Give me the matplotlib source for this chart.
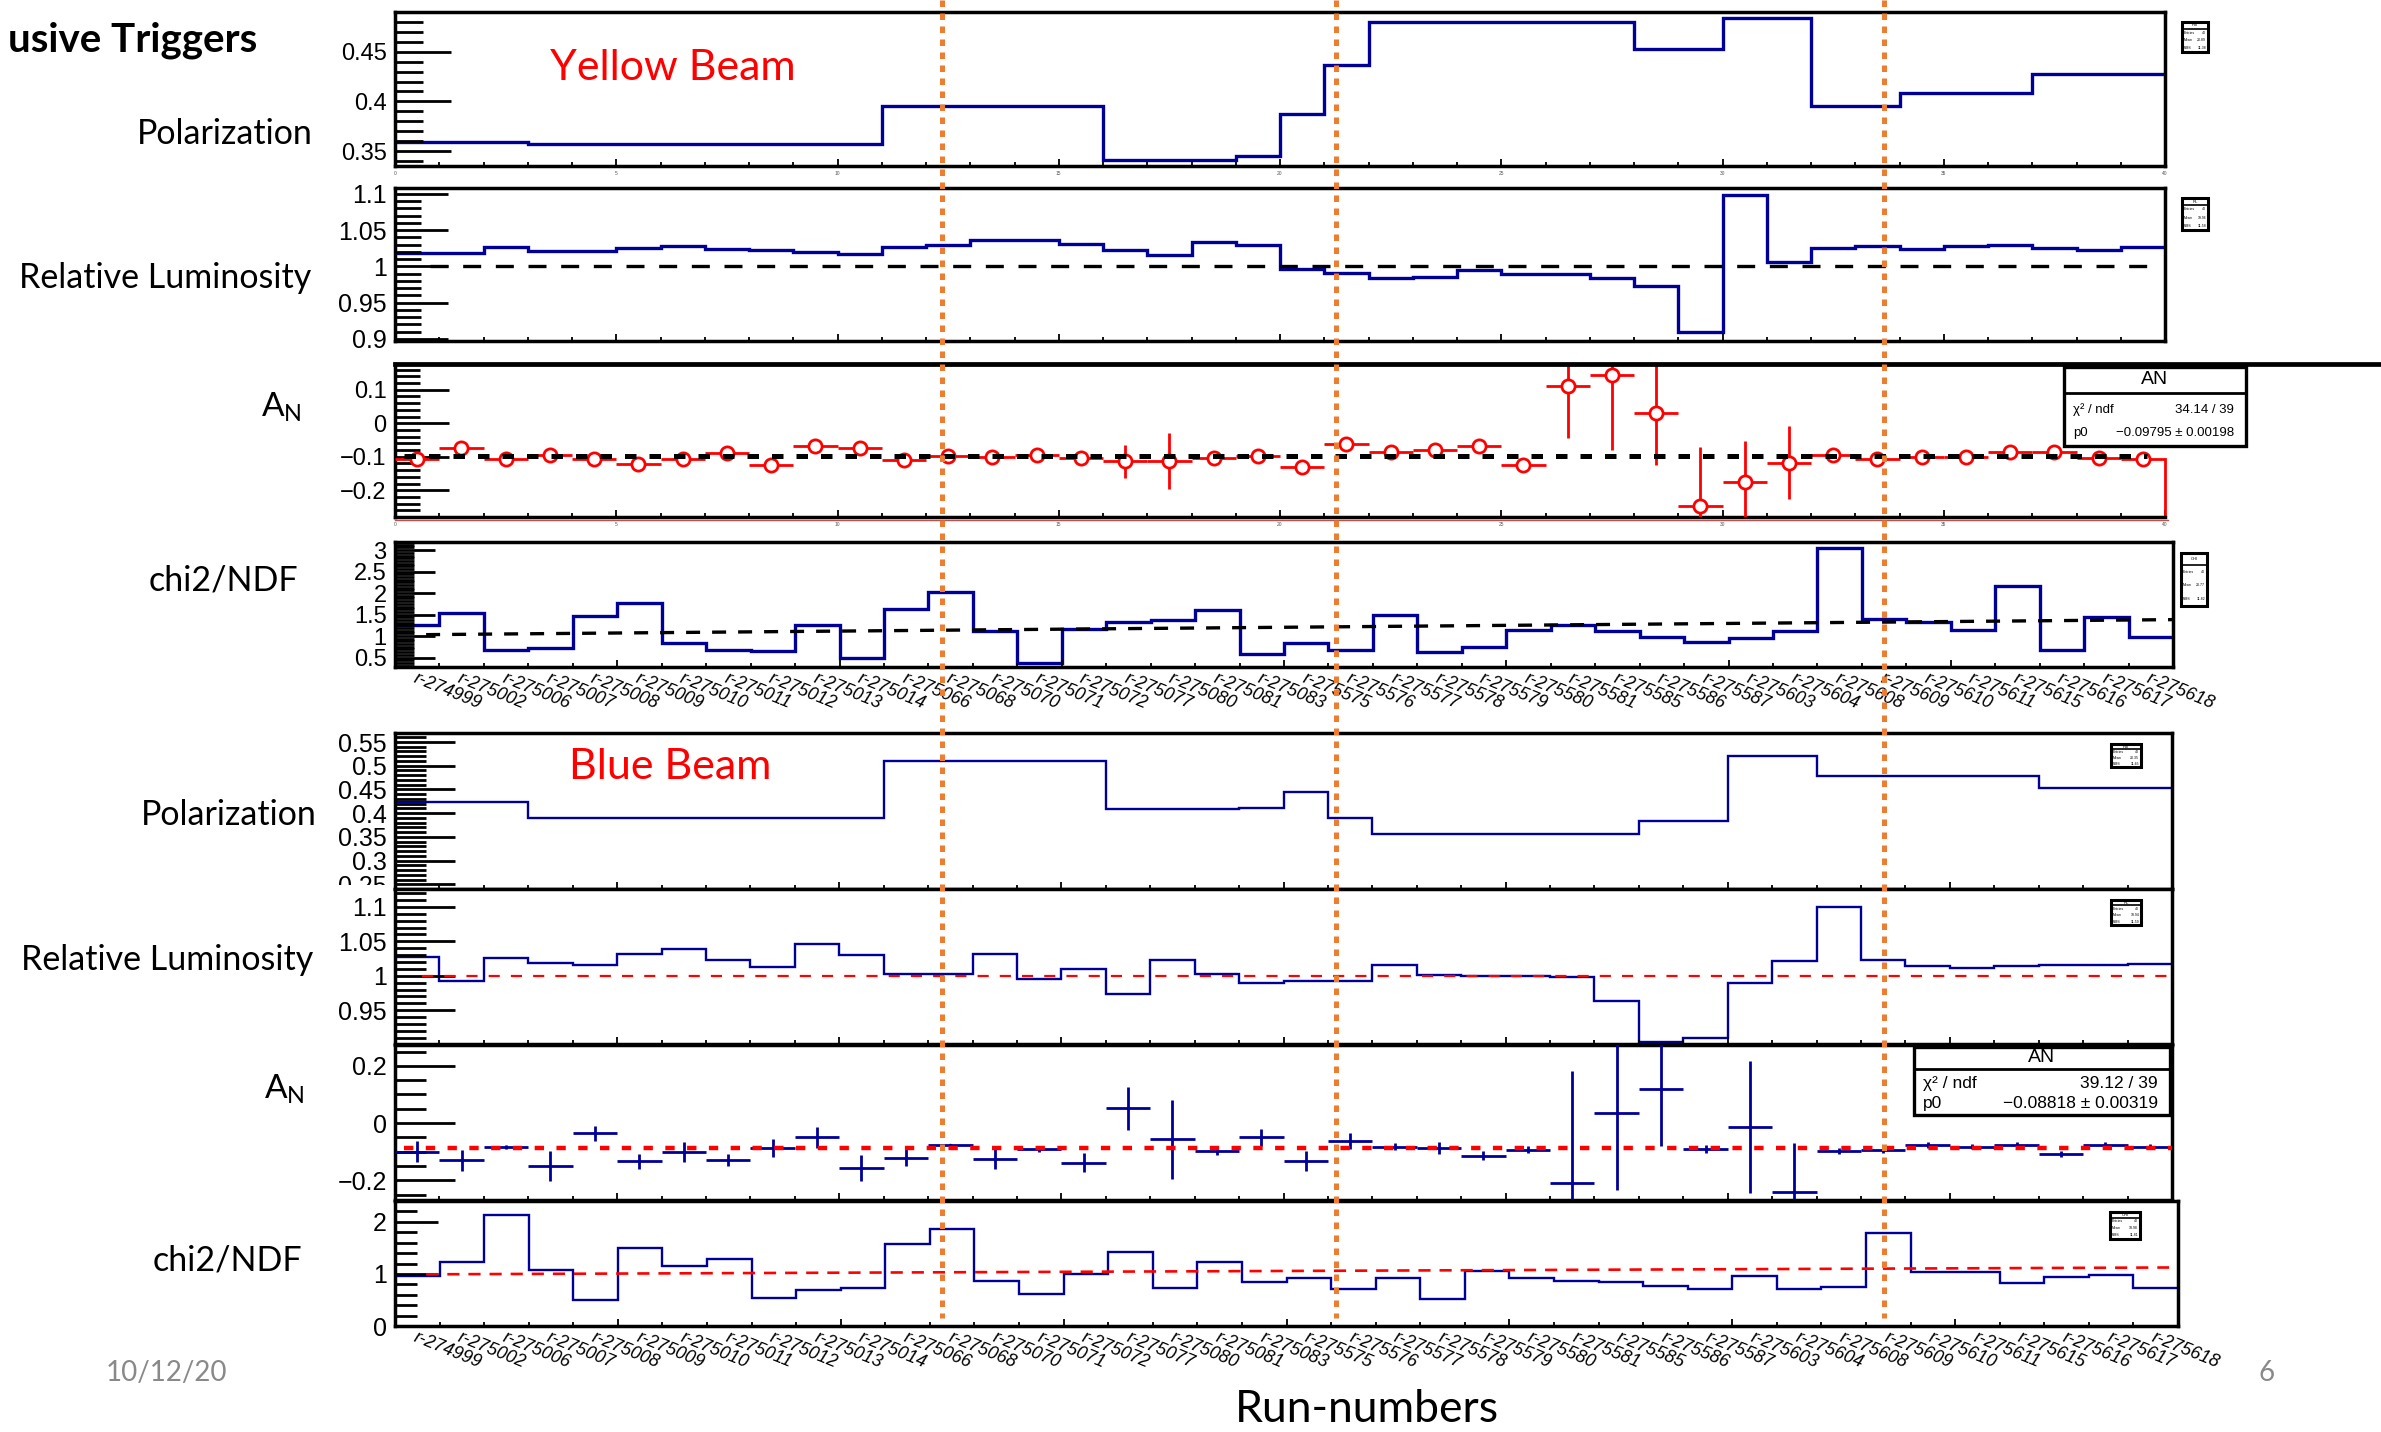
import numpy as np
import matplotlib
matplotlib.use("Agg")
import matplotlib.pyplot as plt
from matplotlib.ticker import MultipleLocator, FuncFormatter
from matplotlib.lines import Line2D
from matplotlib.patches import Rectangle

plt.rcParams["font.family"] = ["Liberation Sans", "DejaVu Sans"]
plt.rcParams["mathtext.default"] = "regular"

# run list (one bin per run)
runs = [274999, 275002, 275006, 275007, 275008, 275009, 275010, 275011, 275012, 275013,
        275014, 275066, 275068, 275070, 275071, 275072, 275077, 275080, 275081, 275083,
        275575, 275576, 275577, 275578, 275579, 275580, 275581, 275585, 275586, 275587,
        275603, 275604, 275608, 275609, 275610, 275611, 275615, 275616, 275617, 275618]

# yellow beam
yellow_pol = [0.359, 0.359, 0.359, 0.357, 0.357, 0.357, 0.357, 0.357, 0.357, 0.357,
              0.357, 0.395, 0.395, 0.395, 0.395, 0.395, 0.341, 0.341, 0.341, 0.345,
              0.387, 0.437, 0.480, 0.480, 0.480, 0.480, 0.480, 0.480, 0.453, 0.453,
              0.484, 0.484, 0.395, 0.395, 0.408, 0.408, 0.408, 0.428, 0.428, 0.428]
yellow_rl = [1.018, 1.019, 1.026, 1.021, 1.021, 1.025, 1.028, 1.024, 1.023, 1.020,
             1.017, 1.026, 1.030, 1.036, 1.036, 1.031, 1.023, 1.016, 1.033, 1.030,
             0.996, 0.991, 0.984, 0.985, 0.995, 0.990, 0.989, 0.984, 0.973, 0.909,
             1.099, 1.006, 1.025, 1.028, 1.024, 1.028, 1.030, 1.025, 1.023, 1.027]
yellow_an = [-0.108, -0.074, -0.107, -0.096, -0.106, -0.121, -0.107, -0.088, -0.126, -0.068,
             -0.074, -0.111, -0.098, -0.102, -0.094, -0.105, -0.114, -0.112, -0.105, -0.098,
             -0.131, -0.062, -0.086, -0.081, -0.067, -0.126, 0.110, 0.145, 0.030, -0.247,
             -0.176, -0.118, -0.094, -0.107, -0.101, -0.101, -0.087, -0.085, -0.103, -0.108]
yellow_an_err = [0.015, 0.012, 0.010, 0.018, 0.010, 0.012, 0.012, 0.015, 0.010, 0.012,
                 0.020, 0.010, 0.012, 0.018, 0.015, 0.012, 0.049, 0.083, 0.012, 0.012,
                 0.010, 0.012, 0.010, 0.010, 0.010, 0.010, 0.155, 0.224, 0.155, 0.176,
                 0.124, 0.109, 0.010, 0.012, 0.010, 0.010, 0.010, 0.010, 0.010, 0.010]
yellow_chi2 = [1.259, 1.539, 0.669, 0.723, 1.462, 1.765, 0.840, 0.669, 0.653, 1.267,
               0.490, 1.640, 2.029, 1.120, 0.382, 1.166, 1.337, 1.368, 1.609, 0.591,
               0.832, 0.685, 1.493, 0.622, 0.747, 1.151, 1.267, 1.120, 0.980, 0.855,
               0.964, 1.120, 3.047, 1.400, 1.337, 1.135, 2.161, 0.669, 1.454, 0.988]
yellow_an_fit = "-0.09795 ± 0.00198"
yellow_an_p0 = -0.09795
yellow_chi2ndf = "34.14 / 39"
yellow_chi2_trend = (1.027, 0.0089)

# blue beam
blue_pol = [0.423, 0.423, 0.423, 0.389, 0.389, 0.389, 0.389, 0.389, 0.389, 0.389,
            0.389, 0.510, 0.510, 0.510, 0.510, 0.510, 0.408, 0.408, 0.408, 0.411,
            0.444, 0.389, 0.355, 0.355, 0.355, 0.355, 0.355, 0.355, 0.383, 0.383,
            0.521, 0.521, 0.479, 0.479, 0.479, 0.479, 0.479, 0.453, 0.453, 0.453]
blue_rl = [1.027, 0.993, 1.026, 1.018, 1.016, 1.032, 1.039, 1.023, 1.013, 1.046,
           1.030, 1.003, 1.002, 1.031, 0.995, 1.010, 0.973, 1.023, 1.002, 0.989,
           0.993, 0.992, 1.015, 1.001, 1.000, 0.999, 0.998, 0.964, 0.904, 0.909,
           0.990, 1.021, 1.100, 1.023, 1.014, 1.012, 1.014, 1.015, 1.016, 1.017]
blue_an = [-0.100, -0.130, -0.083, -0.149, -0.035, -0.133, -0.101, -0.129, -0.087, -0.050,
           -0.156, -0.121, -0.077, -0.124, -0.092, -0.138, 0.052, -0.057, -0.099, -0.050,
           -0.132, -0.062, -0.082, -0.087, -0.114, -0.093, -0.209, 0.035, 0.120, -0.090,
           -0.013, -0.241, -0.098, -0.093, -0.077, -0.082, -0.077, -0.108, -0.077, -0.082]
blue_an_err = [0.036, 0.036, 0.008, 0.052, 0.026, 0.026, 0.034, 0.022, 0.032, 0.036,
               0.045, 0.029, 0.005, 0.035, 0.010, 0.034, 0.075, 0.137, 0.012, 0.029,
               0.036, 0.027, 0.012, 0.020, 0.015, 0.012, 0.390, 0.270, 0.200, 0.015,
               0.230, 0.170, 0.010, 0.012, 0.010, 0.010, 0.010, 0.012, 0.010, 0.010]
blue_chi2 = [0.955, 1.222, 2.125, 1.072, 0.507, 1.494, 1.150, 1.280, 0.533, 0.682,
             0.728, 1.572, 1.858, 0.858, 0.611, 1.007, 1.417, 0.731, 1.235, 0.851,
             0.923, 0.708, 0.923, 0.526, 1.059, 0.923, 0.864, 0.838, 0.773, 0.715,
             0.968, 0.715, 0.747, 1.787, 1.046, 1.046, 0.825, 0.942, 0.975, 0.728]
blue_an_fit = "-0.08818 ± 0.00319"
blue_an_p0 = -0.08818
blue_chi2ndf = "39.12 / 39"
blue_chi2_trend = (0.990, 0.00335)

NAVY = "#000099"
ORANGE = "#ED7D31"
SLIDE_FONT = ["Lato", "DejaVu Sans"]

W, H = 2381, 1432
fig = plt.figure(figsize=(W / 100, H / 100), dpi=100)
fig.patch.set_facecolor("white")


def rect(x0, y0, x1, y1):
    return [x0 / W, 1 - y1 / H, (x1 - x0) / W, (y1 - y0) / H]


def fx(x):
    return x / W


def fy(y):
    return 1 - y / H


def tick_fmt(v, pos):
    if abs(v) < 1e-9:
        return "0"
    return ("%g" % round(v, 4)).replace("-", "\u2212")


def panel(r, ylim, major, minor, lmaj, lmin, labelsize=17):
    ax = fig.add_axes(r)
    ax.set_xlim(0, 40)
    ax.set_ylim(*ylim)
    ax.yaxis.set_major_locator(MultipleLocator(major))
    ax.yaxis.set_minor_locator(MultipleLocator(minor))
    ax.yaxis.set_major_formatter(FuncFormatter(tick_fmt))
    ax.xaxis.set_major_locator(MultipleLocator(5))
    ax.xaxis.set_minor_locator(MultipleLocator(1))
    ax.tick_params(axis="y", which="major", direction="in", length=lmaj, width=2.0,
                   labelsize=labelsize, pad=6)
    ax.tick_params(axis="y", which="minor", direction="in", length=lmin, width=2.0)
    ax.tick_params(axis="x", which="both", direction="in", width=1.3, labelbottom=False)
    ax.tick_params(axis="x", which="major", length=5)
    ax.tick_params(axis="x", which="minor", length=3)
    for s in ax.spines.values():
        s.set_linewidth(2.5)
    return ax


def run_labels(ax):
    tr = ax.get_xaxis_transform()
    for i, r in enumerate(runs):
        ax.text(i + 0.5, -0.02, "r-%d" % r, transform=tr, rotation=-22,
                rotation_mode="anchor", ha="left", va="top", fontsize=13,
                style="italic", clip_on=False)


def small_numbers(ax):
    tr = ax.get_xaxis_transform()
    for v in range(0, 41, 5):
        ax.text(v, -0.03, str(v), transform=tr, ha="center", va="top",
                fontsize=3.5, color="#555555")


def mini_box(x0, y0, x1, y1, title, values):
    fig.add_artist(Rectangle((fx(x0), fy(y1)), fx(x1) - fx(x0), fy(y0) - fy(y1),
                             transform=fig.transFigure, fill=True, fc="white",
                             ec="black", lw=2.2, zorder=5))
    ydiv = y0 + (y1 - y0) * 0.22
    fig.add_artist(Line2D([fx(x0), fx(x1)], [fy(ydiv), fy(ydiv)], color="black",
                          lw=1.2, zorder=6))
    fig.text(fx((x0 + x1) / 2), fy((y0 + ydiv) / 2), title, ha="center",
             va="center", fontsize=3, zorder=7)
    w = np.asarray(values)
    c = np.arange(40) + 0.5
    mean = np.sum(c * w) / np.sum(w)
    rms = np.sqrt(np.sum(w * (c - mean) ** 2) / np.sum(w))
    rows = [("Entries", "%d" % len(w)), ("Mean", "%.2f" % mean), ("RMS", "%.2f" % rms)]
    for k, (a, b) in enumerate(rows):
        yy = ydiv + (y1 - ydiv) * (k + 0.5) / 3
        fig.text(fx(x0 + 2), fy(yy), a, ha="left", va="center", fontsize=2.5, zorder=7)
        fig.text(fx(x1 - 2), fy(yy), b, ha="right", va="center", fontsize=2.5, zorder=7)


def fit_box(x0, y0, x1, y1, ydiv, chi2ndf, p0, fs_title, fs):
    fig.add_artist(Rectangle((fx(x0), fy(y1)), fx(x1) - fx(x0), fy(y0) - fy(y1),
                             transform=fig.transFigure, fc="white", ec="black",
                             lw=2.4, zorder=5))
    fig.add_artist(Line2D([fx(x0), fx(x1)], [fy(ydiv), fy(ydiv)], color="black",
                          lw=2.0, zorder=6))
    fig.text(fx((x0 + x1) / 2), fy((y0 + ydiv) / 2), "AN", ha="center",
             va="center", fontsize=fs_title, zorder=7)
    r1 = ydiv + (y1 - ydiv) * 0.32
    r2 = ydiv + (y1 - ydiv) * 0.76
    fig.text(fx(x0 + 9), fy(r1), "\u03c7\u00b2 / ndf", ha="left", va="center",
             fontsize=fs, zorder=7)
    fig.text(fx(x1 - 12), fy(r1), chi2ndf, ha="right", va="center", fontsize=fs, zorder=7)
    fig.text(fx(x0 + 9), fy(r2), "p0", ha="left", va="center", fontsize=fs, zorder=7)
    fig.text(fx(x1 - 12), fy(r2), p0.replace("-", "\u2212"), ha="right",
             va="center", fontsize=fs, zorder=7)


edges = np.arange(41)
centers = np.arange(40) + 0.5

# ---------------- yellow beam ----------------
ax = panel(rect(395, 12, 2165, 166), (0.335, 0.49), 0.05, 0.01, 40, 20)
ax.stairs(yellow_pol, edges, color=NAVY, lw=2.4, baseline=None)
small_numbers(ax)

ax = panel(rect(395, 188, 2165, 341), (0.897, 1.108), 0.05, 0.01, 38, 19, labelsize=18)
ax.stairs(yellow_rl, edges, color=NAVY, lw=2.4, baseline=None)
ax.plot([0.8, 39.8], [1, 1], color="black", lw=2.4, dashes=(5.4, 4.4))

ax = panel(rect(395, 364, 2165, 517), (-0.28, 0.177), 0.1, 0.02, 39, 18)
ax.spines["right"].set_visible(False)
ax.errorbar(centers, yellow_an, yerr=yellow_an_err, xerr=0.5, fmt="o", color="red",
            mfc="white", mec="red", ms=9.5, mew=2.0, elinewidth=2.0, capsize=0, zorder=3)
ax.plot([0.2, 39.6], [yellow_an_p0, yellow_an_p0], color="black", lw=3.6,
        dashes=(2.3, 2.6), zorder=4)
ax.plot([40, 40], [-0.28, yellow_an[-1]], color="red", lw=2.0, clip_on=False)
small_numbers(ax)

ax = panel(rect(395, 542, 2173, 667), (0.28, 3.19), 0.5, 0.0625, 29, 14, labelsize=17)
ax.stairs(yellow_chi2, edges, color=NAVY, lw=2.4, baseline=None)
xs = np.array([0.7, 40.0])
ax.plot(xs, yellow_chi2_trend[0] + yellow_chi2_trend[1] * xs, color="black", lw=2.4,
        dashes=(4.2, 3.6))
run_labels(ax)

# ---------------- blue beam ----------------
ax = panel(rect(395, 733, 2172, 889), (0.24, 0.569), 0.05, 0.01, 43, 22, labelsize=18)
ax.stairs(blue_pol, edges, color=NAVY, lw=1.7, baseline=None)

ax = panel(rect(395, 889, 2172, 1044), (0.901, 1.126), 0.05, 0.01, 43, 22, labelsize=18)
ax.stairs(blue_rl, edges, color=NAVY, lw=1.7, baseline=None)
ax.plot([0.6, 40], [1, 1], color="red", lw=1.6, dashes=(5.0, 5.0))

ax = panel(rect(395, 1045, 2172, 1200), (-0.269, 0.273), 0.2, 0.05, 43, 22, labelsize=18)
ax.errorbar(centers, blue_an, yerr=blue_an_err, xerr=0.5, fmt=".", color=NAVY, ms=3,
            elinewidth=2.0, capsize=0, zorder=3)
ax.plot([0.2, 40], [blue_an_p0, blue_an_p0], color="red", lw=3.2, dashes=(2.1, 2.8),
        zorder=4)

ax = panel(rect(395, 1201, 2178, 1326), (0, 2.4), 1, 0.2, 31, 16, labelsize=18)
ax.stairs(blue_chi2, edges, color=NAVY, lw=1.7, baseline=None)
xs = np.array([0.7, 39.8])
ax.plot(xs, blue_chi2_trend[0] + blue_chi2_trend[1] * xs, color="red", lw=1.9,
        dashes=(4.6, 3.4))
run_labels(ax)

# the relative-luminosity pad hides the lower half of the last polarization label
fig.add_artist(Rectangle((fx(300), fy(897)), fx(393) - fx(300), fy(885) - fy(897),
                         transform=fig.transFigure, fc="white", ec="none", zorder=1))

# frame line running across the slide above the yellow AN panel
fig.add_artist(Line2D([fx(395), fx(2381)], [fy(364), fy(364)], color="black", lw=3.4))
fig.add_artist(Line2D([fx(395), fx(2168)], [fy(519.5), fy(519.5)], color="#c0504d", lw=1.0))

# statistics boxes
mini_box(2182, 22, 2208, 52, "Pol", yellow_pol)
mini_box(2182, 198, 2208, 230, "RL", yellow_rl)
mini_box(2181, 553, 2207, 606, "CHI", yellow_chi2)
mini_box(2111, 744, 2141, 767, "Pol", blue_pol)
mini_box(2111, 900, 2141, 925, "RL", blue_rl)
mini_box(2110, 1212, 2140, 1239, "CHI", blue_chi2)
fit_box(2064, 367, 2246, 446, 393, yellow_chi2ndf, yellow_an_fit, 14, 9.5)
fit_box(1914, 1047, 2170, 1115, 1069, blue_chi2ndf, blue_an_fit, 14, 12.5)

# fill boundaries
for xb in [942, 1336, 1884]:
    fig.add_artist(Line2D([fx(xb), fx(xb)], [fy(0), fy(1318)], color=ORANGE, lw=3.6,
                          dashes=(1.3, 1.3), zorder=10))

# slide text
fig.text(fx(257), fy(40), "usive Triggers", ha="right", va="center", fontsize=29,
         fontweight="bold", family=SLIDE_FONT)
fig.text(fx(550), fy(68), "Yellow Beam", ha="left", va="center", fontsize=31,
         color="red", family=SLIDE_FONT)
fig.text(fx(569), fy(767), "Blue Beam", ha="left", va="center", fontsize=31,
         color="red", family=SLIDE_FONT)

labels = [("Polarization", 313, 134), ("Relative Luminosity", 311, 278),
          ("chi2/NDF", 298, 580), ("Polarization", 317, 815),
          ("Relative Luminosity", 313, 960), ("chi2/NDF", 302, 1260)]
for txt, x, y in labels:
    fig.text(fx(x), fy(y), txt, ha="right", va="center", fontsize=24.5, family=SLIDE_FONT)
for x, y in [(281, 407), (284, 1089)]:
    fig.text(fx(x), fy(y), "A$_N$", ha="center", va="center", fontsize=24,
             family=SLIDE_FONT)

fig.text(fx(1367), fy(1409), "Run-numbers", ha="center", va="center", fontsize=32,
         family=SLIDE_FONT)
fig.text(fx(106), fy(1373), "10/12/20", ha="left", va="center", fontsize=20,
         color="#898989", family=SLIDE_FONT)
fig.text(fx(2267), fy(1373), "6", ha="center", va="center", fontsize=20,
         color="#898989", family=SLIDE_FONT)

fig.savefig("out.png", dpi=100, facecolor="white")
